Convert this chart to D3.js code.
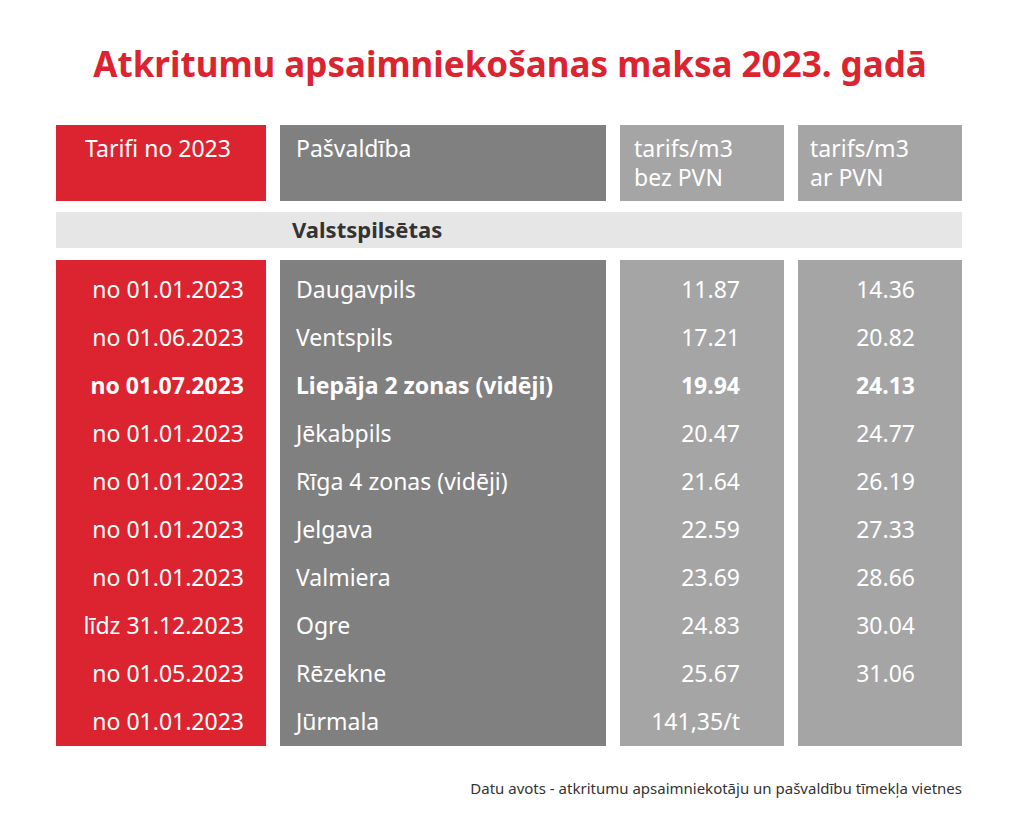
<!DOCTYPE html>
<html>
<head>
  <meta charset="utf-8">
  <title>Atkritumu maksa 2023</title>
  <script src="https://cdn.jsdelivr.net/npm/d3@7"></script>
  <style>
    body { margin: 0; background: #fff; }
    text { font-family: "Noto Sans", "Open Sans", sans-serif; }
  </style>
</head>
<body>
<script>
  // table data
  const dates = ["no 01.01.2023", "no 01.06.2023", "no 01.07.2023", "no 01.01.2023", "no 01.01.2023",
    "no 01.01.2023", "no 01.01.2023", "līdz 31.12.2023", "no 01.05.2023", "no 01.01.2023"];
  const cities = ["Daugavpils", "Ventspils", "Liepāja 2 zonas (vidēji)", "Jēkabpils", "Rīga 4 zonas  (vidēji)",
    "Jelgava", "Valmiera", "Ogre", "Rēzekne", "Jūrmala"];
  const noVat = ["11.87", "17.21", "19.94", "20.47", "21.64", "22.59", "23.69", "24.83", "25.67", "141,35/t"];
  const withVat = ["14.36", "20.82", "24.13", "24.77", "26.19", "27.33", "28.66", "30.04", "31.06", ""];
  const boldRow = 2;

  const w = 1024, h = 835;
  const red = "#dc2430", dark = "#808080", mid = "#a5a5a5";

  const svg = d3.select("body").append("svg").attr("width", w).attr("height", h);

  svg.append("text").attr("x", 510).attr("y", 77).attr("text-anchor", "middle")
    .attr("fill", red).attr("font-size", 35).attr("font-weight", "bold")
    .text("Atkritumu apsaimniekošanas maksa 2023. gadā");

  // columns
  const cols = [
    {x: 56, w: 210, fill: red},
    {x: 280, w: 326, fill: dark},
    {x: 620, w: 164, fill: mid},
    {x: 798, w: 164, fill: mid}
  ];
  cols.forEach(c => {
    svg.append("rect").attr("x", c.x).attr("y", 125).attr("width", c.w).attr("height", 76).attr("fill", c.fill);
    svg.append("rect").attr("x", c.x).attr("y", 260).attr("width", c.w).attr("height", 486).attr("fill", c.fill);
  });

  const hdr = svg.append("g").attr("fill", "#fff").attr("font-size", 23);
  hdr.append("text").attr("x", 158).attr("y", 157).attr("text-anchor", "middle").text("Tarifi no 2023");
  hdr.append("text").attr("x", 296).attr("y", 157).text("Pašvaldība");
  [[634, "bez PVN"], [810, "ar PVN"]].forEach(([x, t]) => {
    hdr.append("text").attr("x", x).attr("y", 157).text("tarifs/m3");
    hdr.append("text").attr("x", x).attr("y", 186).text(t);
  });

  svg.append("rect").attr("x", 56).attr("y", 212).attr("width", 906).attr("height", 36).attr("fill", "#e6e6e6");
  svg.append("text").attr("x", 292).attr("y", 238).attr("font-size", 22).attr("font-weight", "bold")
    .attr("fill", "#333").text("Valstspilsētas");

  const y = d3.scaleBand().domain(d3.range(cities.length)).range([266, 746]);
  const rows = svg.append("g").selectAll("g").data(cities).join("g")
    .attr("transform", (d, i) => `translate(0,${y(i) + y.bandwidth() / 2 + 8})`)
    .attr("fill", "#fff").attr("font-size", 23)
    .attr("font-weight", (d, i) => i === boldRow ? "bold" : "normal");
  rows.append("text").attr("x", 244).attr("text-anchor", "end").text((d, i) => dates[i]);
  rows.append("text").attr("x", 296).text(d => d);
  rows.append("text").attr("x", 740).attr("text-anchor", "end").text((d, i) => noVat[i]);
  rows.append("text").attr("x", 915).attr("text-anchor", "end").text((d, i) => withVat[i]);

  svg.append("text").attr("x", 962).attr("y", 794).attr("text-anchor", "end")
    .attr("font-size", 15).attr("fill", "#333")
    .text("Datu avots - atkritumu apsaimniekotāju un pašvaldību tīmekļa vietnes");
</script>
</body>
</html>
